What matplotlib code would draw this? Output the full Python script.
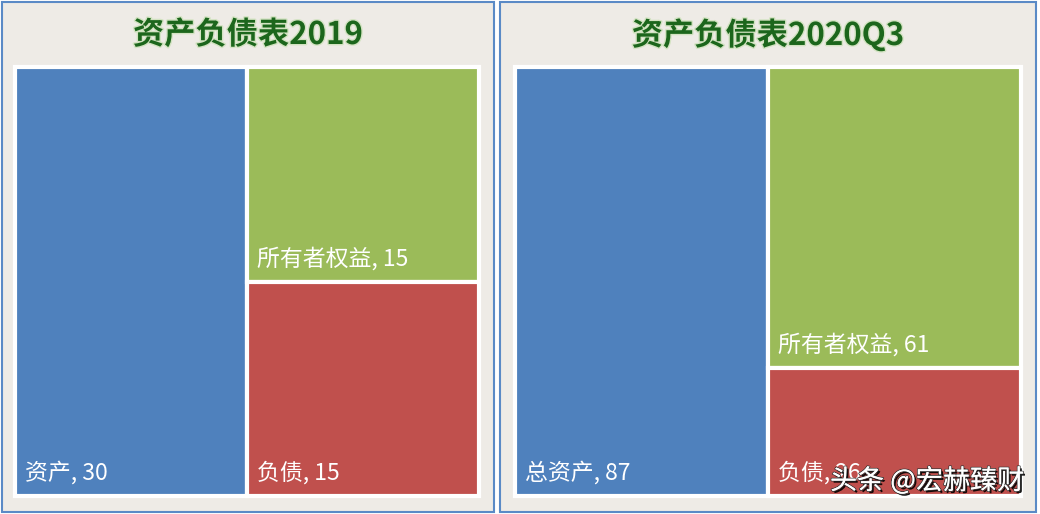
import matplotlib.pyplot as plt
import matplotlib.patheffects as pe
from matplotlib.patches import Rectangle

plt.rcParams['font.family'] = ['Noto Sans CJK SC', 'DejaVu Sans']

# data
titles = ['资产负债表2019', '资产负债表2020Q3']
asset_names = ['资产', '总资产']
assets = [30, 87]
equity = [15, 61]
liabilities = [15, 26]

blue = '#4F81BD'
green = '#9BBB59'
red = '#C0504D'
bg = '#EEEBE6'

W, H = 1040, 514
fig = plt.figure(figsize=(W / 100, H / 100), dpi=100)
fig.patch.set_facecolor('white')

# panel frames (pixel boxes: x0, x1)
panels = [(2, 494), (500, 1036)]
plot_x = [(15, 479), (515, 1021)]
plot_y = (67, 496)

for k in range(2):
    x0, x1 = panels[k]
    fig.patches.append(Rectangle((x0 / W, 2 / H), (x1 - x0) / W, (H - 4) / H,
                                 transform=fig.transFigure, facecolor=bg,
                                 edgecolor='#5A8AC6', linewidth=1.5, zorder=-10))
    fig.text((x0 + x1) / 2 / W, 1 - 35 / H, titles[k], ha='center', va='center',
             fontsize=22.5, fontweight='bold', color='#1C661C',
             path_effects=[pe.withStroke(linewidth=2, foreground='#d3e3c2')])

    px0, px1 = plot_x[k]
    ax = fig.add_axes([px0 / W, (H - plot_y[1]) / H, (px1 - px0) / W,
                       (plot_y[1] - plot_y[0]) / H])
    ax.set_xlim(0, 1)
    ax.set_ylim(0, 1)
    ax.axis('off')

    total = assets[k] + equity[k] + liabilities[k]
    wa = assets[k] / total
    hl = liabilities[k] / (equity[k] + liabilities[k])
    tiles = [
        (0, 0, wa, 1, blue, f'{asset_names[k]}, {assets[k]}'),
        (wa, hl, 1 - wa, 1 - hl, green, f'所有者权益, {equity[k]}'),
        (wa, 0, 1 - wa, hl, red, f'负债, {liabilities[k]}'),
    ]
    for tx, ty, tw, th, c, lab in tiles:
        ax.add_patch(Rectangle((tx, ty), tw, th, facecolor=c, edgecolor='white',
                               linewidth=3, clip_on=False))
        ax.annotate(lab, (tx, ty), xytext=(7, 8), textcoords='offset points',
                    ha='left', va='bottom', fontsize=16.5, fontweight='medium',
                    color='white')

# watermark
fig.text(830 / W, 1 - 481 / H, '头条 @宏赫臻财', ha='left', va='center',
         fontsize=19.5, color='white', zorder=10,
         path_effects=[pe.withSimplePatchShadow(offset=(1.5, -1.5), shadow_rgbFace='black', alpha=0.9),
                       pe.withStroke(linewidth=1.2, foreground='#333333'),
                       pe.Normal()])

fig.savefig('out.png', dpi=100)
